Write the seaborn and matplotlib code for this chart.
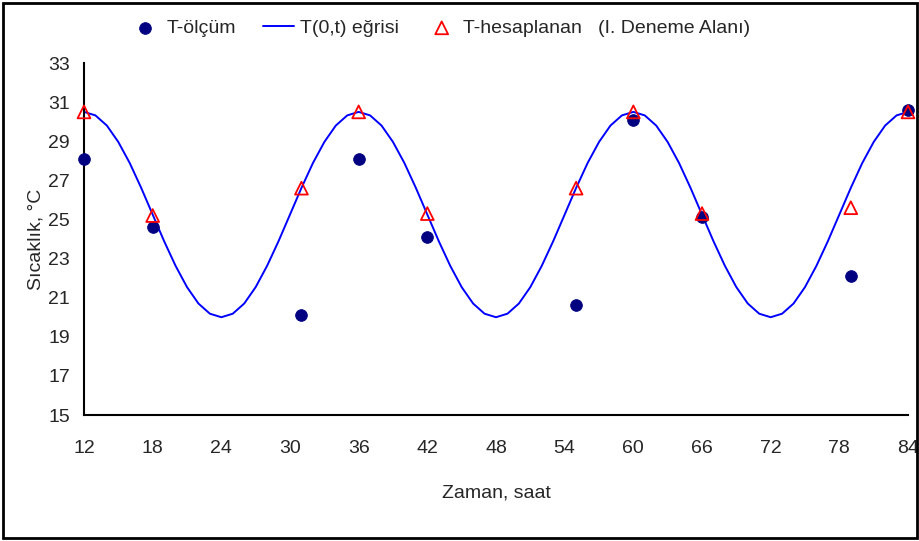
import numpy as np
import pandas as pd
import seaborn as sns
import matplotlib.pyplot as plt
from matplotlib.patches import Rectangle

# measured points (T-ölçüm)
olcum_saat = [12, 18, 31, 36, 42, 55, 60, 66, 79, 84]
olcum_T = [28.1, 24.6, 20.1, 28.1, 24.1, 20.6, 30.1, 25.1, 22.1, 30.6]

# calculated points (T-hesaplanan)
hesap_saat = [12, 18, 31, 36, 42, 55, 60, 66, 79, 84]
hesap_T = [30.5, 25.2, 26.6, 30.5, 25.3, 26.6, 30.5, 25.3, 25.6, 30.5]

# curve T(0,t), hourly from 12 to 84
egri_saat = list(range(12, 85))
egri_T = [30.50, 30.32, 29.80, 28.96, 27.88, 26.61, 25.25, 23.89, 22.63, 21.54, 20.70, 20.18,
          20.00, 20.18, 20.70, 21.54, 22.63, 23.89, 25.25, 26.61, 27.88, 28.96, 29.80, 30.32,
          30.50, 30.32, 29.80, 28.96, 27.88, 26.61, 25.25, 23.89, 22.63, 21.54, 20.70, 20.18,
          20.00, 20.18, 20.70, 21.54, 22.63, 23.89, 25.25, 26.61, 27.88, 28.96, 29.80, 30.32,
          30.50, 30.32, 29.80, 28.96, 27.88, 26.61, 25.25, 23.89, 22.63, 21.54, 20.70, 20.18,
          20.00, 20.18, 20.70, 21.54, 22.63, 23.89, 25.25, 26.61, 27.88, 28.96, 29.80, 30.32,
          30.50]

x_ticks = [12, 18, 24, 30, 36, 42, 48, 54, 60, 66, 72, 78, 84]
y_ticks = [15, 17, 19, 21, 23, 25, 27, 29, 31, 33]

sns.set_style('white')
plt.rcParams['font.family'] = ['Liberation Sans Narrow', 'Liberation Sans', 'DejaVu Sans']

fig = plt.figure(figsize=(9.2, 5.41), dpi=100)
ax = fig.add_axes([84 / 920, 126 / 541, 824 / 920, 352 / 541])

sns.scatterplot(x=olcum_saat, y=olcum_T, ax=ax, color='#000080', marker='o', s=70,
                edgecolor='#000080', label='T-ölçüm', zorder=3, clip_on=False)
sns.lineplot(x=egri_saat, y=egri_T, ax=ax, color='#0000FF', linewidth=1.4,
             label='T(0,t) eğrisi', zorder=2)
sns.scatterplot(x=hesap_saat, y=hesap_T, ax=ax, marker='^', s=85, facecolor='none',
                edgecolor='#FF0000', linewidth=1.3, label='T-hesaplanan   (I. Deneme Alanı)',
                zorder=4, clip_on=False)

ax.set_xlim(12, 84)
ax.set_ylim(15, 33)
ax.set_xticks(x_ticks)
ax.set_yticks(y_ticks)
ax.tick_params(axis='both', direction='out', length=6, width=1.2, color='black',
               labelsize=14)
ax.tick_params(axis='y', pad=4)
ax.tick_params(axis='x', pad=12)
for s in ['top', 'right']:
    ax.spines[s].set_visible(False)
for s in ['left', 'bottom']:
    ax.spines[s].set_color('black')
    ax.spines[s].set_linewidth(1.5)

ax.set_xlabel('Zaman, saat', fontsize=14, labelpad=20)
ax.set_ylabel('Sıcaklık, °C', fontsize=14, labelpad=3, family=['Liberation Sans', 'DejaVu Sans'])

ax.get_legend().remove()
handles, labels = ax.get_legend_handles_labels()
fig.legend(handles, labels, loc='center', bbox_to_anchor=(0.478, 0.948), ncol=3,
           frameon=False, fontsize=14, handlelength=1.6, columnspacing=1.4, handletextpad=0.3)

fig.patches.append(Rectangle((3 / 920, 3 / 541), 914 / 920, 535 / 541, transform=fig.transFigure,
                             fill=False, edgecolor='black', linewidth=2))

plt.savefig('out.png', dpi=100)
